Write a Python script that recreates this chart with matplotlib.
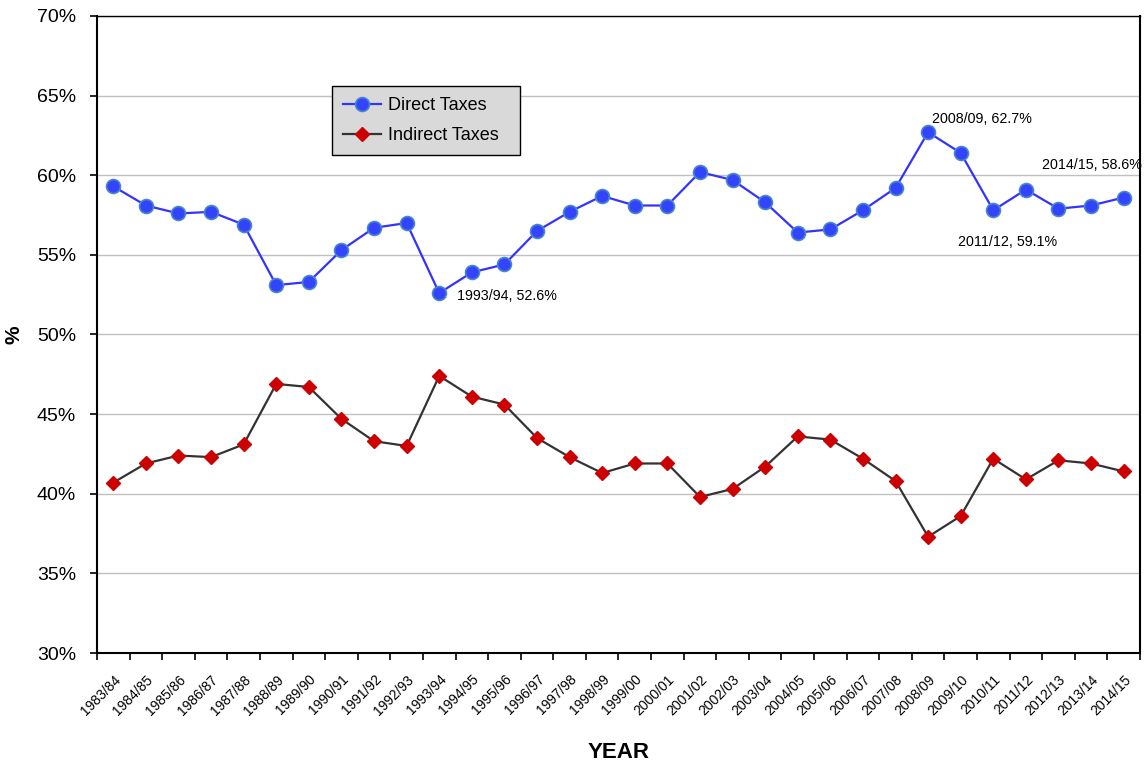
import numpy as np
import matplotlib
matplotlib.use("Agg")
import matplotlib.pyplot as plt
from matplotlib.ticker import FuncFormatter

plt.rcParams['font.family'] = ['Liberation Sans', 'DejaVu Sans']

# --- Data ---
years = ["1983/84", "1984/85", "1985/86", "1986/87", "1987/88", "1988/89", "1989/90",
         "1990/91", "1991/92", "1992/93", "1993/94", "1994/95", "1995/96", "1996/97",
         "1997/98", "1998/99", "1999/00", "2000/01", "2001/02", "2002/03", "2003/04",
         "2004/05", "2005/06", "2006/07", "2007/08", "2008/09", "2009/10", "2010/11",
         "2011/12", "2012/13", "2013/14", "2014/15"]
direct = [59.3, 58.1, 57.6, 57.7, 56.9, 53.1, 53.3, 55.3, 56.7, 57.0, 52.6, 53.9,
          54.4, 56.5, 57.7, 58.7, 58.1, 58.1, 60.2, 59.7, 58.3, 56.4, 56.6, 57.8,
          59.2, 62.7, 61.4, 57.8, 59.1, 57.9, 58.1, 58.6]
indirect = [40.7, 41.9, 42.4, 42.3, 43.1, 46.9, 46.7, 44.7, 43.3, 43.0, 47.4, 46.1,
            45.6, 43.5, 42.3, 41.3, 41.9, 41.9, 39.8, 40.3, 41.7, 43.6, 43.4, 42.2,
            40.8, 37.3, 38.6, 42.2, 40.9, 42.1, 41.9, 41.4]
# annotations: (text, year index, value)
notes = [("1993/94, 52.6%", 10, 52.6), ("2008/09, 62.7%", 25, 62.7),
         ("2014/15, 58.6%", 31, 58.6), ("2011/12, 59.1%", 28, 59.1)]
note_offsets = [(18, -3), (4, 13), (-82, 33), (-68, -52)]

# --- Figure ---
fig = plt.figure(figsize=(11.48, 7.65), dpi=100)
ax = fig.add_axes([0.0845, 0.1464, 0.9085, 0.8327])
x = np.arange(len(years))

ax.plot(x, direct, color='#3333ff', lw=1.6, marker='o', markersize=10,
        markerfacecolor='#3344ff', markeredgecolor='#4a86c8', markeredgewidth=1.2,
        label='Direct Taxes', zorder=3)
ax.plot(x, indirect, color='#333333', lw=1.6, marker='D', markersize=7.5,
        markerfacecolor='#cc0000', markeredgecolor='#cc0000',
        label='Indirect Taxes  ', zorder=3)

for (txt, i, v), (dx, dy) in zip(notes, note_offsets):
    ax.annotate(txt, (i, v), xytext=(dx, dy), textcoords='offset pixels',
                fontsize=10.3, va='center', ha='left')

ax.set_xlim(-0.5, len(years) - 0.5)
ax.set_ylim(30, 70)
ax.set_yticks(np.arange(30, 71, 5))
ax.yaxis.set_major_formatter(FuncFormatter(lambda v, p: f"{v:.0f}%"))
ax.grid(axis='y', color='#c0c0c0', lw=1)
ax.set_axisbelow(True)

ax.set_xticks(x)
ax.set_xticklabels(years, rotation=45, ha='right', rotation_mode='anchor', fontsize=10)
ax.set_xticks(np.arange(-0.5, len(years)), minor=True)
ax.tick_params(axis='x', which='major', length=0, pad=14)
ax.tick_params(axis='x', which='minor', length=5, width=1.2)
ax.tick_params(axis='y', length=5, width=1.2, labelsize=14, pad=10)

for s in ['left', 'bottom', 'right']:
    ax.spines[s].set_linewidth(1.5)
    ax.spines[s].set_color('black')
ax.spines['top'].set_linewidth(1)
ax.spines['top'].set_color('black')

ax.set_ylabel('%', fontsize=15, fontweight='bold', labelpad=10)
ax.set_xlabel('YEAR', fontsize=16, fontweight='bold', labelpad=17)

leg = ax.legend(loc='upper left', bbox_to_anchor=(0.2255, 0.89), fontsize=13,
                fancybox=False, framealpha=1, edgecolor='black',
                facecolor='#d9d9d9', handlelength=2.1, handletextpad=0.4,
                labelspacing=0.75, borderpad=0.6, borderaxespad=0)
leg.get_frame().set_linewidth(1)

fig.savefig('out.png', dpi=100)
